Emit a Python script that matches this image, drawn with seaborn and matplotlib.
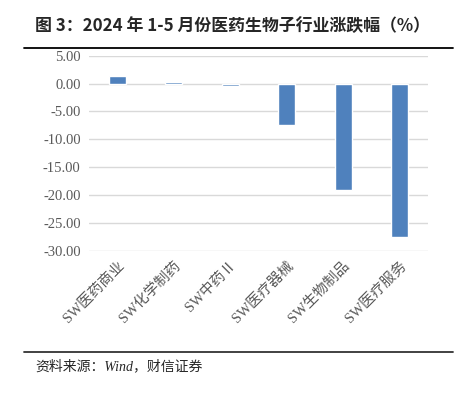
import numpy as np
import pandas as pd
import matplotlib
matplotlib.use('Agg')
import matplotlib.pyplot as plt
import seaborn as sns

industries = ['SW医药商业', 'SW化学制药', 'SW中药Ⅱ', 'SW医疗器械', 'SW生物制品', 'SW医疗服务']
changes = [1.40, 0.30, -0.45, -7.50, -19.10, -27.50]
yticks = [5, 0, -5, -10, -15, -20, -25, -30]

df = pd.DataFrame({'industry': industries, 'change': changes})

sns.set_style('white')
plt.rcParams['font.family'] = ['Liberation Serif', 'Noto Sans CJK SC']

fig = plt.figure(figsize=(4.59, 3.93), dpi=100)
ax = fig.add_axes([0.194, 0.362, 0.738, 0.496])
ax.set_axisbelow(True)

sns.barplot(data=df, x='industry', y='change', color='#4F81BD', width=0.3,
            saturation=1, ax=ax)

ax.set_ylim(-30, 5)
ax.set_yticks(yticks)
ax.set_yticklabels([f'{v:.2f}' for v in yticks], color='#595959', fontsize=10.5)
ax.grid(axis='y', color='#D9D9D9', linewidth=1)
ax.set_xlim(-0.5, len(industries) - 0.5)
ax.set_xticks(range(len(industries)))
ax.set_xticklabels(industries, rotation=45, ha='right', rotation_mode='anchor',
                   color='#595959', fontsize=10.5, fontweight='light')
ax.tick_params(axis='both', length=0, pad=6)
ax.set_xlabel('')
ax.set_ylabel('')
for s in ax.spines.values():
    s.set_visible(False)

fig.text(0.076, 0.934, '图 3：2024 年 1-5 月份医药生物子行业涨跌幅（%）',
         fontsize=12.2, fontweight='bold', va='center', ha='left',
         family=['Noto Sans CJK SC', 'DejaVu Sans'])
fig.add_artist(plt.Line2D([0.052, 0.987], [0.878, 0.878], color='black', linewidth=1.3))
fig.add_artist(plt.Line2D([0.052, 0.987], [0.104, 0.104], color='#333333', linewidth=1.3))
fig.text(0.076, 0.068, '资料来源：Wind，财信证券', fontsize=10, style='italic',
         va='center', ha='left', family=['Liberation Serif', 'Noto Sans CJK SC'])

fig.savefig('out.png', dpi=100)
